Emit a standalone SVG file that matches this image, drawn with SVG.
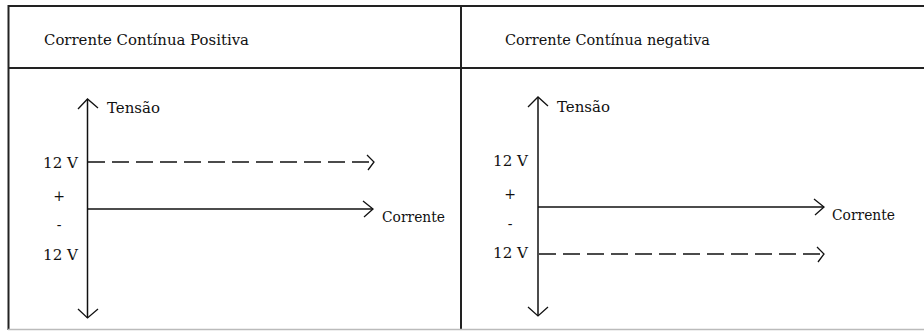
<svg xmlns="http://www.w3.org/2000/svg" width="924" height="331" viewBox="0 0 924 331">
  <style>
    .border { stroke: #222; stroke-width: 2; fill: none; }
    .base { stroke: #bbb; stroke-width: 1.5; fill: none; }
    .axis { stroke: #111; stroke-width: 1.5; fill: none; }
    .dash { stroke: #111; stroke-width: 1.5; fill: none; stroke-dasharray: 17 7; }
    .head { stroke: #111; stroke-width: 1.3; fill: none; stroke-linejoin: miter; }
    text { font-family: "DejaVu Serif", "Liberation Serif", serif; font-size: 14px; fill: #111; }
  </style>
  <rect width="924" height="331" fill="#fff"/>

  <!-- table frame -->
  <g id="table">
    <line class="border" x1="8.5" y1="6" x2="924" y2="6"/>
    <line class="border" x1="8.5" y1="68" x2="924" y2="68"/>
    <line class="border" x1="8.5" y1="5" x2="8.5" y2="330"/>
    <line class="border" x1="461" y1="5" x2="461" y2="330"/>
    <line class="base" x1="8" y1="329.5" x2="924" y2="329.5"/>
  </g>

  <g id="header-positive">
    <text x="44" y="45" textLength="205" lengthAdjust="spacingAndGlyphs">Corrente Contínua Positiva</text>
  </g>
  <g id="header-negative">
    <text x="505" y="45" textLength="205" lengthAdjust="spacingAndGlyphs">Corrente Contínua negativa</text>
  </g>

  <!-- left chart: positive DC -->
  <g id="positive-chart">
    <g id="positive-axes">
      <line class="axis" x1="87.5" y1="99" x2="87.5" y2="318"/>
      <polyline class="head" points="78,109 87.5,99 98,108"/>
      <polyline class="head" points="78,309 87.5,318 98,309"/>
      <line class="axis" x1="87.5" y1="209" x2="373" y2="209"/>
      <polyline class="head" points="363,201 373,209 364,217"/>
    </g>
    <g id="positive-level">
      <line class="dash" x1="88" y1="162" x2="373" y2="162"/>
      <polyline class="head" points="367,155 374,162 368,170"/>
    </g>
    <text x="107" y="113" textLength="53" lengthAdjust="spacingAndGlyphs">Tensão</text>
    <text x="382" y="222" textLength="63" lengthAdjust="spacingAndGlyphs">Corrente</text>
    <text x="43" y="168" textLength="35" lengthAdjust="spacingAndGlyphs">12 V</text>
    <text x="59" y="201" text-anchor="middle" font-size="11">+</text>
    <text x="59" y="230" text-anchor="middle" font-size="12">-</text>
    <text x="43" y="260" textLength="35" lengthAdjust="spacingAndGlyphs">12 V</text>
  </g>

  <!-- right chart: negative DC -->
  <g id="negative-chart">
    <g id="negative-axes">
      <line class="axis" x1="538" y1="97" x2="538" y2="316"/>
      <polyline class="head" points="528,107 538,97 548,106"/>
      <polyline class="head" points="528,307 538,316 548,307"/>
      <line class="axis" x1="538" y1="207" x2="824" y2="207"/>
      <polyline class="head" points="814,199 824,207 815,215"/>
    </g>
    <g id="negative-level">
      <line class="dash" x1="539" y1="254" x2="823" y2="254"/>
      <polyline class="head" points="817,247 824,254 818,262"/>
    </g>
    <text x="557" y="112" textLength="53" lengthAdjust="spacingAndGlyphs">Tensão</text>
    <text x="832" y="220" textLength="63" lengthAdjust="spacingAndGlyphs">Corrente</text>
    <text x="493" y="166" textLength="35" lengthAdjust="spacingAndGlyphs">12 V</text>
    <text x="510" y="199" text-anchor="middle" font-size="11">+</text>
    <text x="510" y="229" text-anchor="middle" font-size="12">-</text>
    <text x="493" y="258" textLength="35" lengthAdjust="spacingAndGlyphs">12 V</text>
  </g>
</svg>
